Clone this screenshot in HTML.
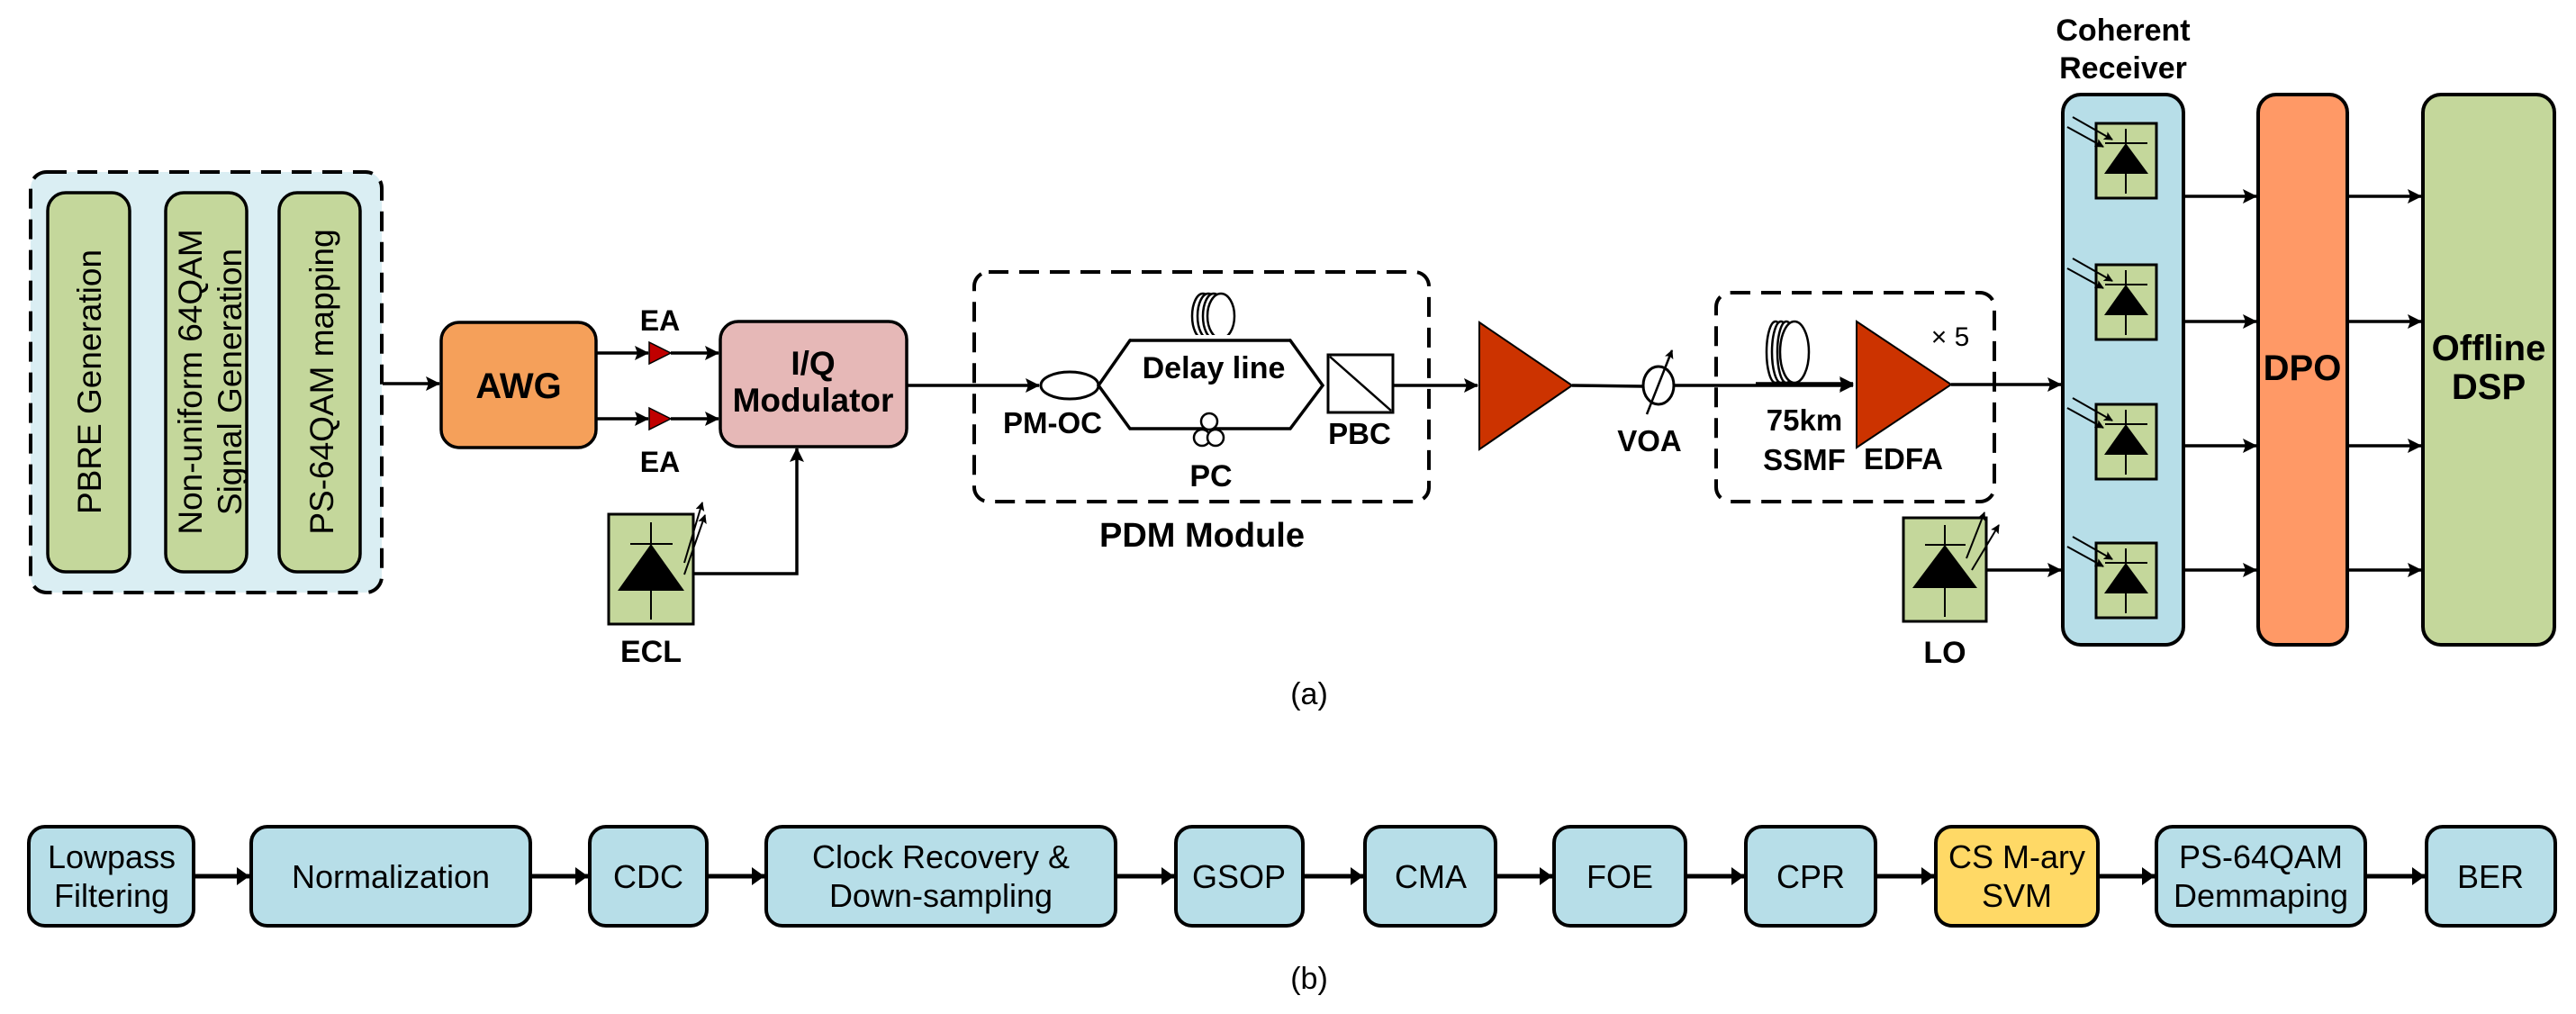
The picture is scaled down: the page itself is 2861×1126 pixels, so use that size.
<!DOCTYPE html>
<html><head><meta charset="utf-8"><style>
html,body{margin:0;padding:0;background:#fff;}
svg{display:block;}
text{font-family:"Liberation Sans",sans-serif;}
.b{font-weight:bold;}
</style></head><body>
<svg width="2861" height="1126" viewBox="0 0 2861 1126" xmlns="http://www.w3.org/2000/svg">
<defs>
<marker id="ar" markerWidth="10" markerHeight="10" refX="9" refY="5" orient="auto" markerUnits="userSpaceOnUse" viewBox="0 0 10 10">
<path d="M0,0 L10,5 L0,10 L2,5 z" fill="#000"/></marker>
<marker id="ar2" markerWidth="16" markerHeight="16" refX="15" refY="8" orient="auto" markerUnits="userSpaceOnUse" viewBox="0 0 16 16">
<path d="M0,0 L16,8 L0,16 L3,8 z" fill="#000"/></marker>
<marker id="ar3" markerWidth="14" markerHeight="20" refX="14" refY="10" orient="auto" markerUnits="userSpaceOnUse" viewBox="0 0 14 20">
<path d="M0,0 L14,10 L0,20 z" fill="#000"/></marker>
</defs>

<!-- Left dashed box -->
<rect x="34" y="191" width="390" height="467" rx="18" fill="#DAEEF3" stroke="#000" stroke-width="4" stroke-dasharray="22,12"/>
<rect x="53" y="214" width="91" height="421" rx="20" fill="#C4D79B" stroke="#000" stroke-width="3.5"/>
<rect x="184" y="214" width="90" height="421" rx="20" fill="#C4D79B" stroke="#000" stroke-width="3.5"/>
<rect x="310" y="214" width="90" height="421" rx="20" fill="#C4D79B" stroke="#000" stroke-width="3.5"/>
<text transform="translate(112,424) rotate(-90)" text-anchor="middle" font-size="37">PBRE Generation</text>
<text transform="translate(224,424) rotate(-90)" text-anchor="middle" font-size="37">Non-uniform 64QAM</text>
<text transform="translate(268,424) rotate(-90)" text-anchor="middle" font-size="37">Signal Generation</text>
<text transform="translate(370,424) rotate(-90)" text-anchor="middle" font-size="37">PS-64QAM mapping</text>
<line x1="425" y1="426" x2="488" y2="426" stroke="#000" stroke-width="3.5" marker-end="url(#ar2)"/>

<!-- AWG -->
<rect x="490" y="358" width="172" height="139" rx="20" fill="#F5A05A" stroke="#000" stroke-width="3.5"/>
<text x="576" y="442" text-anchor="middle" font-size="40" class="b">AWG</text>
<line x1="662" y1="392" x2="720" y2="392" stroke="#000" stroke-width="3.5" marker-end="url(#ar2)"/>
<line x1="745" y1="392" x2="798" y2="392" stroke="#000" stroke-width="3.5" marker-end="url(#ar2)"/>
<line x1="662" y1="465" x2="720" y2="465" stroke="#000" stroke-width="3.5" marker-end="url(#ar2)"/>
<line x1="745" y1="465" x2="798" y2="465" stroke="#000" stroke-width="3.5" marker-end="url(#ar2)"/>
<polygon points="721,380 745,392 721,404" fill="#C00000" stroke="#000" stroke-width="1.5"/>
<polygon points="721,453 745,465 721,477" fill="#C00000" stroke="#000" stroke-width="1.5"/>
<text x="733" y="367" text-anchor="middle" font-size="32" class="b">EA</text>
<text x="733" y="524" text-anchor="middle" font-size="32" class="b">EA</text>

<!-- IQ -->
<rect x="800" y="357" width="207" height="139" rx="20" fill="#E6B8B7" stroke="#000" stroke-width="3.5"/>
<text x="903" y="416" text-anchor="middle" font-size="37" class="b">I/Q</text>
<text x="903" y="457" text-anchor="middle" font-size="37" class="b">Modulator</text>
<line x1="1007" y1="428" x2="1154" y2="428" stroke="#000" stroke-width="3.5" marker-end="url(#ar2)"/>

<!-- ECL -->
<rect x="676" y="571" width="94" height="122" fill="#C4D79B" stroke="#000" stroke-width="3"/>
<line x1="723" y1="580" x2="723" y2="688" stroke="#000" stroke-width="2"/>
<line x1="700" y1="604" x2="747" y2="604" stroke="#000" stroke-width="2"/>
<polygon points="723,604 686,656 760,656" fill="#000"/>
<line x1="760" y1="625" x2="780" y2="558" stroke="#000" stroke-width="2" marker-end="url(#ar)"/>
<line x1="760" y1="638" x2="783" y2="572" stroke="#000" stroke-width="2" marker-end="url(#ar)"/>
<polyline points="770,637 885,637 885,498" fill="none" stroke="#000" stroke-width="3.5" marker-end="url(#ar2)"/>
<text x="723" y="735" text-anchor="middle" font-size="34" class="b">ECL</text>

<!-- PDM module -->
<rect x="1082" y="302" width="505" height="255" rx="16" fill="none" stroke="#000" stroke-width="4" stroke-dasharray="22,12"/>
<ellipse cx="1188" cy="428" rx="32" ry="15" fill="#fff" stroke="#000" stroke-width="3"/>
<polygon points="1220,428 1255,378 1433,378 1469,428 1433,476 1255,476" fill="#fff" stroke="#000" stroke-width="3.5"/>
<ellipse cx="1336" cy="351" rx="12" ry="25" fill="#fff" stroke="#000" stroke-width="2.5"/>
<ellipse cx="1342" cy="351" rx="12" ry="25" fill="#fff" stroke="#000" stroke-width="2.5"/>
<ellipse cx="1348" cy="351" rx="12" ry="25" fill="#fff" stroke="#000" stroke-width="2.5"/>
<ellipse cx="1356" cy="351" rx="15" ry="25" fill="#fff" stroke="#000" stroke-width="2.5"/>
<rect x="1256" y="372" width="176" height="8" fill="#fff"/>
<line x1="1255" y1="378" x2="1433" y2="378" stroke="#000" stroke-width="3.5"/>
<circle cx="1343" cy="468" r="9" fill="#fff" stroke="#000" stroke-width="2.5"/>
<circle cx="1335" cy="486" r="9" fill="#fff" stroke="#000" stroke-width="2.5"/>
<circle cx="1350" cy="486" r="9" fill="#fff" stroke="#000" stroke-width="2.5"/>
<text x="1348" y="420" text-anchor="middle" font-size="34" class="b">Delay line</text>
<text x="1345" y="540" text-anchor="middle" font-size="34" class="b">PC</text>
<text x="1169" y="481" text-anchor="middle" font-size="33" class="b">PM-OC</text>
<rect x="1475" y="394" width="72" height="64" fill="#fff" stroke="#000" stroke-width="3"/>
<line x1="1477" y1="396" x2="1545" y2="456" stroke="#000" stroke-width="2.5"/>
<text x="1510" y="493" text-anchor="middle" font-size="33" class="b">PBC</text>
<text x="1335" y="607" text-anchor="middle" font-size="38" class="b">PDM Module</text>
<line x1="1547" y1="428" x2="1641" y2="428" stroke="#000" stroke-width="3.5" marker-end="url(#ar2)"/>

<!-- Amplifier -->
<polygon points="1643,358 1746,428 1643,499" fill="#CC3300" stroke="#000" stroke-width="2"/>
<line x1="1746" y1="428" x2="1825" y2="429" stroke="#000" stroke-width="3.5"/>
<ellipse cx="1842" cy="428" rx="17" ry="21" fill="#fff" stroke="#000" stroke-width="3"/>
<line x1="1829" y1="460" x2="1857" y2="389" stroke="#000" stroke-width="2.5" marker-end="url(#ar)"/>
<text x="1832" y="501" text-anchor="middle" font-size="33" class="b">VOA</text>
<line x1="1859" y1="428" x2="2058" y2="428" stroke="#000" stroke-width="3.5" marker-end="url(#ar2)"/>

<!-- SSMF / EDFA box -->
<rect x="1906" y="325" width="309" height="232" rx="16" fill="none" stroke="#000" stroke-width="4" stroke-dasharray="22,12"/>
<ellipse cx="1972" cy="391" rx="10" ry="34" fill="#fff" stroke="#000" stroke-width="2.5"/>
<ellipse cx="1978" cy="391" rx="10" ry="34" fill="#fff" stroke="#000" stroke-width="2.5"/>
<ellipse cx="1984" cy="391" rx="10" ry="34" fill="#fff" stroke="#000" stroke-width="2.5"/>
<ellipse cx="1993" cy="391" rx="16" ry="34" fill="#fff" stroke="#000" stroke-width="2.5"/>
<line x1="1950" y1="426" x2="2058" y2="426" stroke="#000" stroke-width="3.5" marker-end="url(#ar2)"/>
<polygon points="2062,357 2167,427 2062,497" fill="#CC3300" stroke="#000" stroke-width="2"/>
<text x="2166" y="384" text-anchor="middle" font-size="30" font-family="Liberation Serif,serif">× 5</text>
<text x="2004" y="478" text-anchor="middle" font-size="33" class="b">75km</text>
<text x="2004" y="522" text-anchor="middle" font-size="33" class="b">SSMF</text>
<text x="2114" y="521" text-anchor="middle" font-size="33" class="b">EDFA</text>
<line x1="2167" y1="427" x2="2289" y2="427" stroke="#000" stroke-width="3.5" marker-end="url(#ar2)"/>

<!-- LO -->
<rect x="2114" y="575" width="92" height="115" fill="#C4D79B" stroke="#000" stroke-width="3"/>
<line x1="2160" y1="583" x2="2160" y2="685" stroke="#000" stroke-width="2"/>
<line x1="2138" y1="605" x2="2183" y2="605" stroke="#000" stroke-width="2"/>
<polygon points="2160,605 2124,653 2196,653" fill="#000"/>
<line x1="2184" y1="620" x2="2204" y2="569" stroke="#000" stroke-width="2" marker-end="url(#ar)"/>
<line x1="2190" y1="633" x2="2220" y2="583" stroke="#000" stroke-width="2" marker-end="url(#ar)"/>
<line x1="2206" y1="633" x2="2289" y2="633" stroke="#000" stroke-width="3.5" marker-end="url(#ar2)"/>
<text x="2160" y="736" text-anchor="middle" font-size="34" class="b">LO</text>

<!-- Coherent Receiver -->
<text x="2358" y="45" text-anchor="middle" font-size="34" class="b">Coherent</text>
<text x="2358" y="87" text-anchor="middle" font-size="34" class="b">Receiver</text>
<rect x="2291" y="105" width="134" height="611" rx="20" fill="#B7DEE8" stroke="#000" stroke-width="4"/>
<g id="pd">
<rect x="2328" y="137" width="67" height="83" fill="#C4D79B" stroke="#000" stroke-width="3"/>
<line x1="2361" y1="143" x2="2361" y2="215" stroke="#000" stroke-width="2"/>
<line x1="2338" y1="159" x2="2385" y2="159" stroke="#000" stroke-width="2"/>
<polygon points="2361,159 2337,193 2386,193" fill="#000"/>
<line x1="2302" y1="130" x2="2346" y2="155" stroke="#000" stroke-width="2" marker-end="url(#ar)"/>
<line x1="2296" y1="141" x2="2336" y2="163" stroke="#000" stroke-width="2" marker-end="url(#ar)"/>
</g>
<use href="#pd" y="157"/>
<use href="#pd" y="312"/>
<use href="#pd" y="466"/>

<!-- DPO & DSP -->
<rect x="2508" y="105" width="99" height="611" rx="20" fill="#FF9966" stroke="#000" stroke-width="4"/>
<text x="2557" y="422" text-anchor="middle" font-size="40" class="b">DPO</text>
<rect x="2691" y="105" width="146" height="611" rx="20" fill="#C4D79B" stroke="#000" stroke-width="4"/>
<text x="2764" y="400" text-anchor="middle" font-size="40" class="b">Offline</text>
<text x="2764" y="443" text-anchor="middle" font-size="40" class="b">DSP</text>
<g stroke="#000" stroke-width="3.5">
<line x1="2425" y1="218" x2="2506" y2="218" marker-end="url(#ar2)"/>
<line x1="2425" y1="357" x2="2506" y2="357" marker-end="url(#ar2)"/>
<line x1="2425" y1="495" x2="2506" y2="495" marker-end="url(#ar2)"/>
<line x1="2425" y1="633" x2="2506" y2="633" marker-end="url(#ar2)"/>
<line x1="2607" y1="218" x2="2689" y2="218" marker-end="url(#ar2)"/>
<line x1="2607" y1="357" x2="2689" y2="357" marker-end="url(#ar2)"/>
<line x1="2607" y1="495" x2="2689" y2="495" marker-end="url(#ar2)"/>
<line x1="2607" y1="633" x2="2689" y2="633" marker-end="url(#ar2)"/>
</g>

<text x="1454" y="782" text-anchor="middle" font-size="34">(a)</text>

<!-- Bottom pipeline -->
<g fill="#B7DEE8" stroke="#000" stroke-width="4">
<rect x="32" y="918" width="183" height="110" rx="18"/>
<rect x="279" y="918" width="310" height="110" rx="18"/>
<rect x="655" y="918" width="130" height="110" rx="18"/>
<rect x="851" y="918" width="388" height="110" rx="18"/>
<rect x="1306" y="918" width="141" height="110" rx="18"/>
<rect x="1516" y="918" width="145" height="110" rx="18"/>
<rect x="1726" y="918" width="146" height="110" rx="18"/>
<rect x="1939" y="918" width="144" height="110" rx="18"/>
<rect x="2150" y="918" width="180" height="110" rx="18" fill="#FFD966"/>
<rect x="2395" y="918" width="232" height="110" rx="18"/>
<rect x="2695" y="918" width="143" height="110" rx="18"/>
</g>
<g stroke="#000" stroke-width="5">
<line x1="215" y1="973" x2="277" y2="973" marker-end="url(#ar3)"/>
<line x1="589" y1="973" x2="653" y2="973" marker-end="url(#ar3)"/>
<line x1="785" y1="973" x2="849" y2="973" marker-end="url(#ar3)"/>
<line x1="1239" y1="973" x2="1304" y2="973" marker-end="url(#ar3)"/>
<line x1="1447" y1="973" x2="1514" y2="973" marker-end="url(#ar3)"/>
<line x1="1661" y1="973" x2="1724" y2="973" marker-end="url(#ar3)"/>
<line x1="1872" y1="973" x2="1937" y2="973" marker-end="url(#ar3)"/>
<line x1="2083" y1="973" x2="2148" y2="973" marker-end="url(#ar3)"/>
<line x1="2330" y1="973" x2="2393" y2="973" marker-end="url(#ar3)"/>
<line x1="2627" y1="973" x2="2693" y2="973" marker-end="url(#ar3)"/>
</g>
<g font-size="36" text-anchor="middle">
<text x="124" y="964">Lowpass</text><text x="124" y="1007">Filtering</text>
<text x="434" y="986">Normalization</text>
<text x="720" y="986">CDC</text>
<text x="1045" y="964">Clock Recovery &amp;</text><text x="1045" y="1007">Down-sampling</text>
<text x="1376" y="986">GSOP</text>
<text x="1589" y="986">CMA</text>
<text x="1799" y="986">FOE</text>
<text x="2011" y="986">CPR</text>
<text x="2240" y="964">CS M-ary</text><text x="2240" y="1007">SVM</text>
<text x="2511" y="964">PS-64QAM</text><text x="2511" y="1007">Demmaping</text>
<text x="2766" y="986">BER</text>
</g>
<text x="1454" y="1098" text-anchor="middle" font-size="34">(b)</text>
</svg>
</body></html>
